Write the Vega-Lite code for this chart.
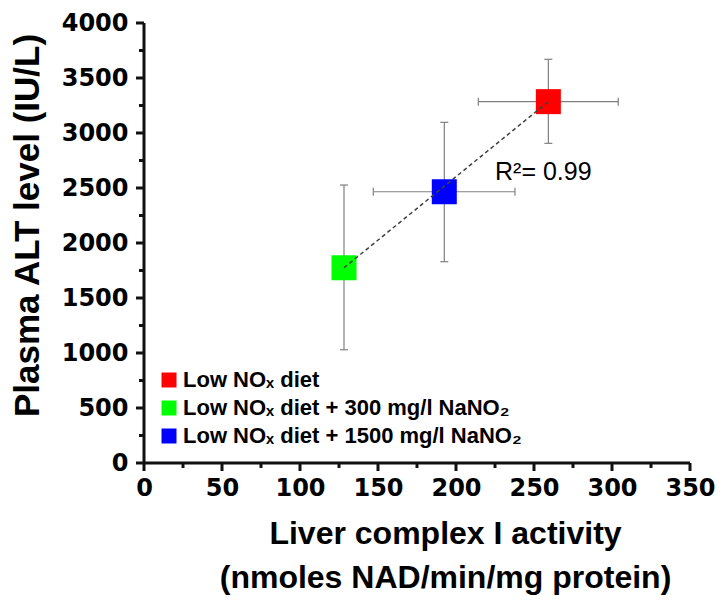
{
  "$schema": "https://vega.github.io/schema/vega-lite/v6.json",
  "width": 546,
  "height": 440,
  "autosize": "none",
  "padding": {"left": 144, "top": 23, "right": 36, "bottom": 143},
  "background": "white",
  "config": {
    "view": {"stroke": null},
    "axis": {
      "grid": false,
      "domain": false,
      "ticks": true,
      "tickOpacity": 0,
      "tickSize": 8,
      "labelFont": "DejaVu Sans",
      "labelFontWeight": "bold",
      "labelFontSize": 24,
      "labelColor": "black",
      "titleFont": "Liberation Sans",
      "titleFontWeight": "bold",
      "titleColor": "black",
      "labelOverlap": false,
      "labelFlush": false
    },
    "legend": {
      "labelFont": "Liberation Sans",
      "labelFontWeight": "bold",
      "labelFontSize": 22,
      "labelColor": "black",
      "labelLimit": 0
    }
  },
  "datasets": {
    "pts": [
      {"group": "Low NOₓ diet", "x": 259.2, "y": 3285, "ylo": 2906, "yhi": 3670, "xlo": 214.3, "xhi": 304},
      {"group": "Low NOₓ diet + 300 mg/l NaNO₂", "x": 128.2, "y": 1775, "ylo": 1030, "yhi": 2527, "xlo": null, "xhi": null},
      {"group": "Low NOₓ diet + 1500 mg/l NaNO₂", "x": 192.5, "y": 2466, "ylo": 1830, "yhi": 3097, "xlo": 147, "xhi": 237.8}
    ],
    "fit": [
      {"x": 128.2, "y": 1775},
      {"x": 259.2, "y": 3285}
    ],
    "ann": [
      {"x": 225, "y": 2645, "label": "R²= 0.99"}
    ],
    "yticks": [
      {"v": 0, "major": true}, {"v": 250, "major": false}, {"v": 500, "major": true}, {"v": 750, "major": false},
      {"v": 1000, "major": true}, {"v": 1250, "major": false}, {"v": 1500, "major": true}, {"v": 1750, "major": false},
      {"v": 2000, "major": true}, {"v": 2250, "major": false}, {"v": 2500, "major": true}, {"v": 2750, "major": false},
      {"v": 3000, "major": true}, {"v": 3250, "major": false}, {"v": 3500, "major": true}, {"v": 3750, "major": false},
      {"v": 4000, "major": true}
    ],
    "xticks": [
      {"v": 0, "major": true}, {"v": 25, "major": false}, {"v": 50, "major": true}, {"v": 75, "major": false},
      {"v": 100, "major": true}, {"v": 125, "major": false}, {"v": 150, "major": true}, {"v": 175, "major": false},
      {"v": 200, "major": true}, {"v": 225, "major": false}, {"v": 250, "major": true}, {"v": 275, "major": false},
      {"v": 300, "major": true}, {"v": 325, "major": false}, {"v": 350, "major": true}
    ]
  },
  "layer": [
    {
      "data": {"name": "pts"},
      "mark": {"type": "rule", "color": "#808080", "strokeWidth": 1.2},
      "encoding": {
        "x": {
          "field": "x", "type": "quantitative",
          "scale": {"domain": [0, 350], "nice": false, "zero": false},
          "axis": {
            "values": [0, 50, 100, 150, 200, 250, 300, 350],
            "format": "d",
            "labelPadding": 5,
            "title": ["Liver complex I activity", "(nmoles NAD/min/mg protein)"],
            "titleFontSize": 32,
            "titleLineHeight": 44,
            "titleAnchor": "start",
            "titleAlign": "center",
            "titleBaseline": "top",
            "titleX": 301,
            "titleY": 55
          }
        },
        "y": {
          "field": "ylo", "type": "quantitative",
          "scale": {"domain": [0, 4000], "nice": false, "zero": false},
          "axis": {
            "values": [0, 500, 1000, 1500, 2000, 2500, 3000, 3500, 4000],
            "format": "d",
            "labelPadding": 8,
            "title": "Plasma ALT level (IU/L)",
            "titleFontSize": 35,
            "titleAngle": -90,
            "titleAlign": "center",
            "titleBaseline": "middle",
            "titleX": -117,
            "titleY": 202
          }
        },
        "y2": {"field": "yhi"}
      }
    },
    {
      "data": {"name": "pts"},
      "transform": [{"filter": "datum.xlo != null"}],
      "mark": {"type": "rule", "color": "#808080", "strokeWidth": 1.2},
      "encoding": {
        "x": {"field": "xlo", "type": "quantitative"},
        "x2": {"field": "xhi"},
        "y": {"field": "y", "type": "quantitative"}
      }
    },
    {
      "data": {"name": "pts"},
      "mark": {"type": "point", "shape": "M-1,0H1", "size": 64, "filled": false, "stroke": "#808080", "strokeWidth": 1.2, "opacity": 1},
      "encoding": {
        "x": {"field": "x", "type": "quantitative"},
        "y": {"field": "ylo", "type": "quantitative"}
      }
    },
    {
      "data": {"name": "pts"},
      "mark": {"type": "point", "shape": "M-1,0H1", "size": 64, "filled": false, "stroke": "#808080", "strokeWidth": 1.2, "opacity": 1},
      "encoding": {
        "x": {"field": "x", "type": "quantitative"},
        "y": {"field": "yhi", "type": "quantitative"}
      }
    },
    {
      "data": {"name": "pts"},
      "transform": [{"filter": "datum.xlo != null"}],
      "mark": {"type": "point", "shape": "M0,-1V1", "size": 64, "filled": false, "stroke": "#808080", "strokeWidth": 1.2, "opacity": 1},
      "encoding": {
        "x": {"field": "xlo", "type": "quantitative"},
        "y": {"field": "y", "type": "quantitative"}
      }
    },
    {
      "data": {"name": "pts"},
      "transform": [{"filter": "datum.xlo != null"}],
      "mark": {"type": "point", "shape": "M0,-1V1", "size": 64, "filled": false, "stroke": "#808080", "strokeWidth": 1.2, "opacity": 1},
      "encoding": {
        "x": {"field": "xhi", "type": "quantitative"},
        "y": {"field": "y", "type": "quantitative"}
      }
    },
    {
      "data": {"name": "pts"},
      "mark": {"type": "point", "shape": "square", "filled": true, "size": 625, "opacity": 1, "strokeWidth": 0},
      "encoding": {
        "x": {"field": "x", "type": "quantitative"},
        "y": {"field": "y", "type": "quantitative"},
        "color": {
          "field": "group", "type": "nominal",
          "scale": {
            "domain": ["Low NOₓ diet", "Low NOₓ diet + 300 mg/l NaNO₂", "Low NOₓ diet + 1500 mg/l NaNO₂"],
            "range": ["#FF0000", "#00FF00", "#0000FF"]
          },
          "legend": {
            "title": null,
            "orient": "none",
            "legendX": 14,
            "legendY": 346,
            "symbolType": "square",
            "symbolSize": 225,
            "symbolStrokeWidth": 0,
            "symbolOpacity": 1,
            "labelOffset": 3,
            "labelLimit": 0,
            "rowPadding": 6,
            "padding": 0
          }
        }
      }
    },
    {
      "data": {"name": "fit"},
      "mark": {"type": "line", "color": "#404040", "strokeWidth": 1.5, "strokeDash": [4, 3]},
      "encoding": {
        "x": {"field": "x", "type": "quantitative"},
        "y": {"field": "y", "type": "quantitative"}
      }
    },
    {
      "data": {"name": "ann"},
      "mark": {"type": "text", "align": "left", "baseline": "middle", "font": "Liberation Sans", "fontSize": 25, "color": "black"},
      "encoding": {
        "x": {"field": "x", "type": "quantitative"},
        "y": {"field": "y", "type": "quantitative"},
        "text": {"field": "label"}
      }
    },
    {
      "data": {"values": [{"a": 1}]},
      "mark": {"type": "rule", "stroke": "#111111", "strokeWidth": 3},
      "encoding": {
        "x": {"datum": 0, "type": "quantitative"},
        "y": {"datum": 0, "type": "quantitative"},
        "y2": {"datum": 4000}
      }
    },
    {
      "data": {"values": [{"a": 1}]},
      "mark": {"type": "rule", "stroke": "#111111", "strokeWidth": 3},
      "encoding": {
        "x": {"datum": 0, "type": "quantitative"},
        "x2": {"datum": 350},
        "y": {"datum": 0, "type": "quantitative"}
      }
    },
    {
      "data": {"name": "yticks"},
      "transform": [{"filter": "datum.major"}],
      "mark": {"type": "point", "shape": "M-1,0H0", "size": 256, "filled": false, "stroke": "#111111", "strokeWidth": 3, "opacity": 1},
      "encoding": {
        "x": {"datum": 0, "type": "quantitative"},
        "y": {"field": "v", "type": "quantitative"}
      }
    },
    {
      "data": {"name": "yticks"},
      "transform": [{"filter": "!datum.major"}],
      "mark": {"type": "point", "shape": "M-1,0H0", "size": 100, "filled": false, "stroke": "#111111", "strokeWidth": 3, "opacity": 1},
      "encoding": {
        "x": {"datum": 0, "type": "quantitative"},
        "y": {"field": "v", "type": "quantitative"}
      }
    },
    {
      "data": {"name": "xticks"},
      "transform": [{"filter": "datum.major"}],
      "mark": {"type": "point", "shape": "M0,0V1", "size": 256, "filled": false, "stroke": "#111111", "strokeWidth": 3, "opacity": 1},
      "encoding": {
        "x": {"field": "v", "type": "quantitative"},
        "y": {"datum": 0, "type": "quantitative"}
      }
    },
    {
      "data": {"name": "xticks"},
      "transform": [{"filter": "!datum.major"}],
      "mark": {"type": "point", "shape": "M0,0V1", "size": 100, "filled": false, "stroke": "#111111", "strokeWidth": 3, "opacity": 1},
      "encoding": {
        "x": {"field": "v", "type": "quantitative"},
        "y": {"datum": 0, "type": "quantitative"}
      }
    }
  ]
}
